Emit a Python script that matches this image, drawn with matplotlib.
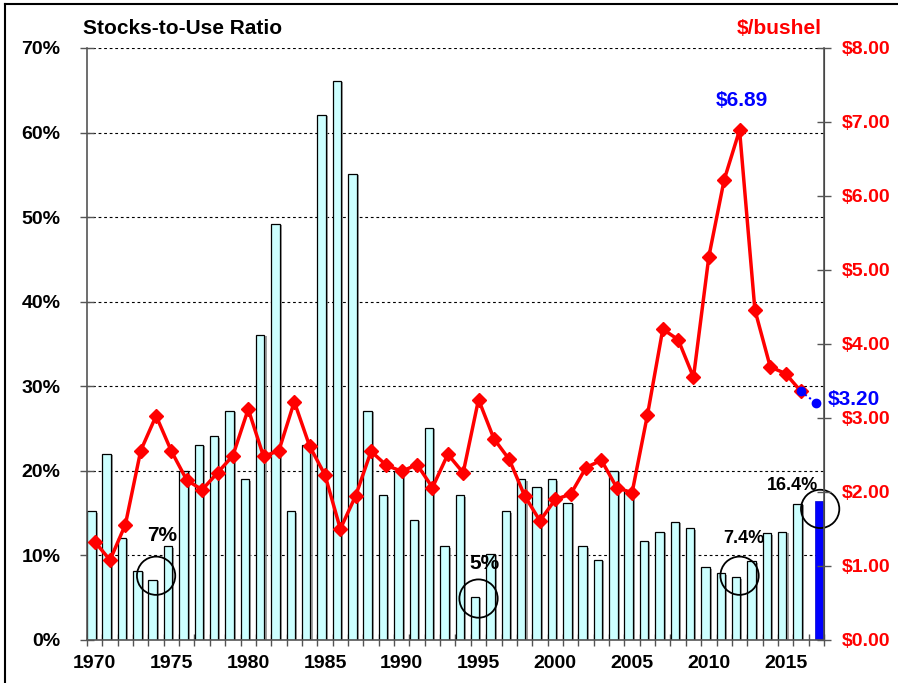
import matplotlib

matplotlib.use("Agg")
import matplotlib.pyplot as plt
import matplotlib.patheffects as pe
from matplotlib.lines import Line2D
import numpy as np

plt.rcParams["font.family"] = ["Liberation Sans", "DejaVu Sans"]
plt.rcParams["font.weight"] = "bold"

years = list(range(1970, 2018))
stocks_use = [15.2, 22.0, 12.1, 8.2, 7.1, 11.1, 20.0, 23.1, 24.1, 27.1,
              19.0, 36.1, 49.2, 15.2, 23.1, 62.1, 66.1, 55.1, 27.1, 17.1,
              20.0, 14.2, 25.1, 11.1, 17.1, 5.1, 10.2, 15.2, 19.0, 18.1,
              19.0, 16.2, 11.1, 9.5, 20.0, 17.6, 11.7, 12.8, 14.0, 13.2,
              8.6, 7.9, 7.4, 9.3, 12.6, 12.8, 16.1, None]
stocks_2017 = 16.4
price = [1.33, 1.08, 1.56, 2.56, 3.03, 2.55, 2.16, 2.03, 2.26, 2.49,
         3.12, 2.48, 2.56, 3.22, 2.62, 2.23, 1.50, 1.95, 2.55, 2.36,
         2.28, 2.37, 2.06, 2.51, 2.26, 3.25, 2.72, 2.44, 1.95, 1.61,
         1.90, 1.97, 2.33, 2.43, 2.06, 1.99, 3.04, 4.20, 4.06, 3.55,
         5.18, 6.22, 6.89, 4.46, 3.69, 3.60, 3.36]
proj_years = [2016, 2017]
proj_price = [3.36, 3.20]

# circled lows: (year, stocks %), labels
circles = [(1974, 7.6), (1995, 4.9), (2012, 7.6), (2017.25, 15.5)]
notes = [("7%", 1974.38, 12.4, 15), ("5%", 1995.37, 9.0, 15),
         ("7.4%", 2012.25, 12.0, 13), ("16.4%", 2015.46, 18.25, 13)]

x = np.arange(len(years))
idx = {y: i for i, y in enumerate(years)}

fig = plt.figure(figsize=(8.98, 6.83), dpi=100)
ax = fig.add_axes([87 / 898, 1 - 640 / 683, (824 - 87) / 898, (640 - 48) / 683])
ax2 = ax.twinx()

shadow = [pe.SimplePatchShadow(offset=(1.5, -1.0), shadow_rgbFace="#888888", alpha=0.8), pe.Normal()]
vals = np.array([np.nan if v is None else v for v in stocks_use])
bars = ax.bar(x - 0.22, vals, width=0.55, color="#ccffff", edgecolor="black", linewidth=0.9, zorder=2)
for b in bars:
    b.set_path_effects(shadow)
ax.bar(x[-1] + 0.22, stocks_2017, width=0.55, color="#0000ff", edgecolor="#0000cc", linewidth=0.5, zorder=2)

ax.set_xlim(-0.5, len(years) - 0.5)
ax.set_ylim(0, 70)
ax.set_yticks(range(0, 71, 10))
ax.set_yticklabels([f"{v}%" for v in range(0, 71, 10)], fontsize=14, fontweight="bold")
ax.grid(axis="y", linestyle=(0, (2.5, 2.5)), color="black", linewidth=0.8, zorder=1)
ax.set_axisbelow(True)
ax.tick_params(axis="y", direction="inout", length=10, width=1, color="#555555", pad=14)

ax.set_xticks(np.arange(-0.5, len(years), 1))
ax.set_xticklabels([])
ax.tick_params(axis="x", which="major", direction="inout", length=8, width=1, color="#555555")
label_pos = [idx[y] for y in years if y % 5 == 0]
ax.set_xticks(label_pos, minor=True)
ax.set_xticklabels([str(years[i]) for i in label_pos], minor=True, fontsize=14, fontweight="bold")
ax.tick_params(axis="x", which="minor", length=0, pad=11)

for side in ["top"]:
    ax.spines[side].set_visible(False)
    ax2.spines[side].set_visible(False)
for s in [ax.spines["left"], ax2.spines["right"], ax.spines["bottom"]]:
    s.set_color("#555555")
    s.set_linewidth(1.2)
ax2.spines["left"].set_visible(False)
ax2.spines["bottom"].set_visible(False)

ax2.set_ylim(0, 8)
ax2.set_yticks(range(0, 9))
ax2.set_yticklabels([f"${v}.00" for v in range(0, 9)], fontsize=14, fontweight="bold", color="#ff0000")
ax2.tick_params(axis="y", direction="inout", length=10, width=1, color="#555555", pad=8)

ax2.plot(x[:len(price)], price, color="#ff0000", linewidth=2.5, marker="D", markersize=7.5,
         markerfacecolor="#ff0000", markeredgecolor="#ff0000", zorder=4)
ax2.plot([idx[y] for y in proj_years], proj_price, color="#0000ff", linestyle=(0, (1, 1.5)),
         linewidth=1.5, marker="o", markersize=6, zorder=5)

for cy, cv in circles:
    ax.scatter(cy - 1970, cv, s=760, facecolors="none", edgecolors="black", linewidths=1.3,
               zorder=6, clip_on=False)
for txt, nx, ny, fs in notes:
    ax.text(nx - 1970, ny, txt, ha="center", va="center", fontsize=fs, fontweight="bold",
            color="black", zorder=7)

ax2.text(idx[2012] + 0.16, 7.29, "$6.89", ha="center", va="center", fontsize=15,
         fontweight="bold", color="#0000ff")
ax2.text(47.72, 3.25, "$3.20", ha="left", va="center", fontsize=15, fontweight="bold",
         color="#0000ff", clip_on=False)

fig.text(83 / 898, 1 - 29 / 683, "Stocks-to-Use Ratio", ha="left", va="center", fontsize=15,
         fontweight="bold", color="black")
fig.text(822 / 898, 1 - 29 / 683, "$/bushel", ha="right", va="center", fontsize=15,
         fontweight="bold", color="#ff0000")

fig.add_artist(Line2D([5 / 898, 5 / 898], [0, 1 - 4 / 683], transform=fig.transFigure,
                      color="black", linewidth=1.5))
fig.add_artist(Line2D([5 / 898, 1], [1 - 4 / 683, 1 - 4 / 683], transform=fig.transFigure,
                      color="black", linewidth=1.5))

fig.savefig("out.png", dpi=100)
